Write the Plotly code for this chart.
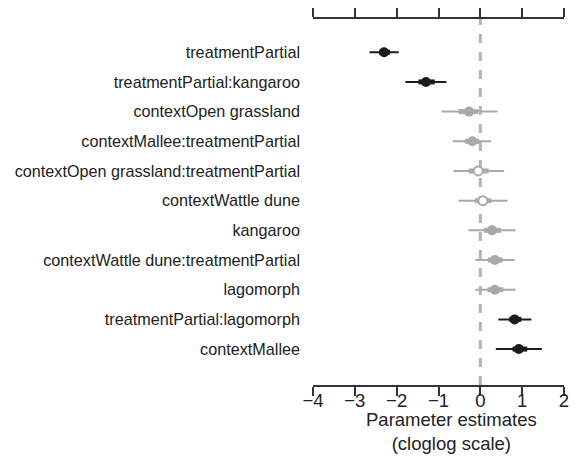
import plotly.graph_objects as go

# Model terms, top to bottom
terms = [
    "treatmentPartial",
    "treatmentPartial:kangaroo",
    "contextOpen grassland",
    "contextMallee:treatmentPartial",
    "contextOpen grassland:treatmentPartial",
    "contextWattle dune",
    "kangaroo",
    "contextWattle dune:treatmentPartial",
    "lagomorph",
    "treatmentPartial:lagomorph",
    "contextMallee",
]
# Posterior medians and credible intervals (cloglog scale)
estimate = [-2.30, -1.30, -0.27, -0.19, -0.05, 0.06, 0.28, 0.35, 0.35, 0.82, 0.92]
lower95 = [-2.65, -1.79, -0.93, -0.66, -0.64, -0.52, -0.29, -0.12, -0.12, 0.43, 0.37]
upper95 = [-1.95, -0.81, 0.41, 0.26, 0.57, 0.65, 0.84, 0.82, 0.84, 1.22, 1.47]
lower50 = [-2.42, -1.48, -0.52, -0.37, -0.28, -0.13, 0.09, 0.18, 0.17, 0.69, 0.77]
upper50 = [-2.16, -1.09, -0.05, -0.03, 0.20, 0.26, 0.49, 0.53, 0.55, 0.98, 1.12]
# Terms whose 95% interval excludes zero are drawn in black
strong = [True, True, False, False, False, False, False, False, False, True, True]
# Terms drawn with hollow points
hollow = [False, False, False, False, True, True, False, False, False, False, False]

xticks = [-4, -3, -2, -1, 0, 1, 2]

BLACK = "#1c1c1c"
GREY = "#a9a9a9"
TEXT = "#222222"
FONT = "Liberation Sans, Arial, sans-serif"

rows = list(range(len(terms)))

fig = go.Figure()


def segments(idx, lo, hi):
    xs, ys = [], []
    for i in idx:
        xs += [lo[i], hi[i], None]
        ys += [rows[i], rows[i], None]
    return xs, ys


for flag, col in [(False, GREY), (True, BLACK)]:
    idx = [i for i in rows if strong[i] == flag]
    xs, ys = segments(idx, lower95, upper95)
    fig.add_trace(go.Scatter(x=xs, y=ys, mode="lines",
                             line=dict(color=col, width=2), hoverinfo="skip"))
    xs, ys = segments(idx, lower50, upper50)
    fig.add_trace(go.Scatter(x=xs, y=ys, mode="lines",
                             line=dict(color=col, width=5), hoverinfo="skip"))
    solid = [i for i in idx if not hollow[i]]
    fig.add_trace(go.Scatter(
        x=[estimate[i] for i in solid], y=[rows[i] for i in solid],
        mode="markers", marker=dict(color=col, size=10, line=dict(width=0)),
        hoverinfo="skip"))
    open_ = [i for i in idx if hollow[i]]
    if open_:
        fig.add_trace(go.Scatter(
            x=[estimate[i] for i in open_], y=[rows[i] for i in open_],
            mode="markers",
            marker=dict(color="white", size=9, line=dict(color=col, width=2)),
            hoverinfo="skip"))

# Zero reference line
fig.add_shape(type="line", xref="x", yref="paper", x0=0, x1=0, y0=0, y1=1,
              layer="below", line=dict(color="#b5b5b5", width=3, dash="9px,9px"))

fig.add_annotation(text="Parameter estimates<br>(cloglog scale)",
                   xref="paper", yref="paper", x=0.551, y=0, yshift=-22,
                   xanchor="center", yanchor="top", showarrow=False,
                   font=dict(family=FONT, size=18.5, color=TEXT))

fig.update_layout(
    width=575, height=458,
    margin=dict(l=313, r=6, t=19, b=73),
    plot_bgcolor="white", paper_bgcolor="white",
    showlegend=False,
    font=dict(family=FONT, color=TEXT),
)
fig.update_xaxes(
    range=[-4, 2], tickvals=xticks,
    ticktext=["\u2212" + str(-v) if v < 0 else str(v) for v in xticks],
    showgrid=False, zeroline=False,
    showline=True, linecolor="#333333", linewidth=1.5,
    ticks="outside", ticklen=9, tickwidth=1.5, tickcolor="#333333",
    mirror="ticks", tickfont=dict(size=18.5, color=TEXT),
    ticklabelstandoff=-11,
)
fig.update_yaxes(
    range=[11.21, -1.12], tickvals=rows, ticktext=terms,
    showgrid=False, zeroline=False, showline=False, ticks="",
    tickfont=dict(size=16.2, color=TEXT), ticklabelstandoff=12,
)

fig.write_html("out.html", config={"displayModeBar": False})
